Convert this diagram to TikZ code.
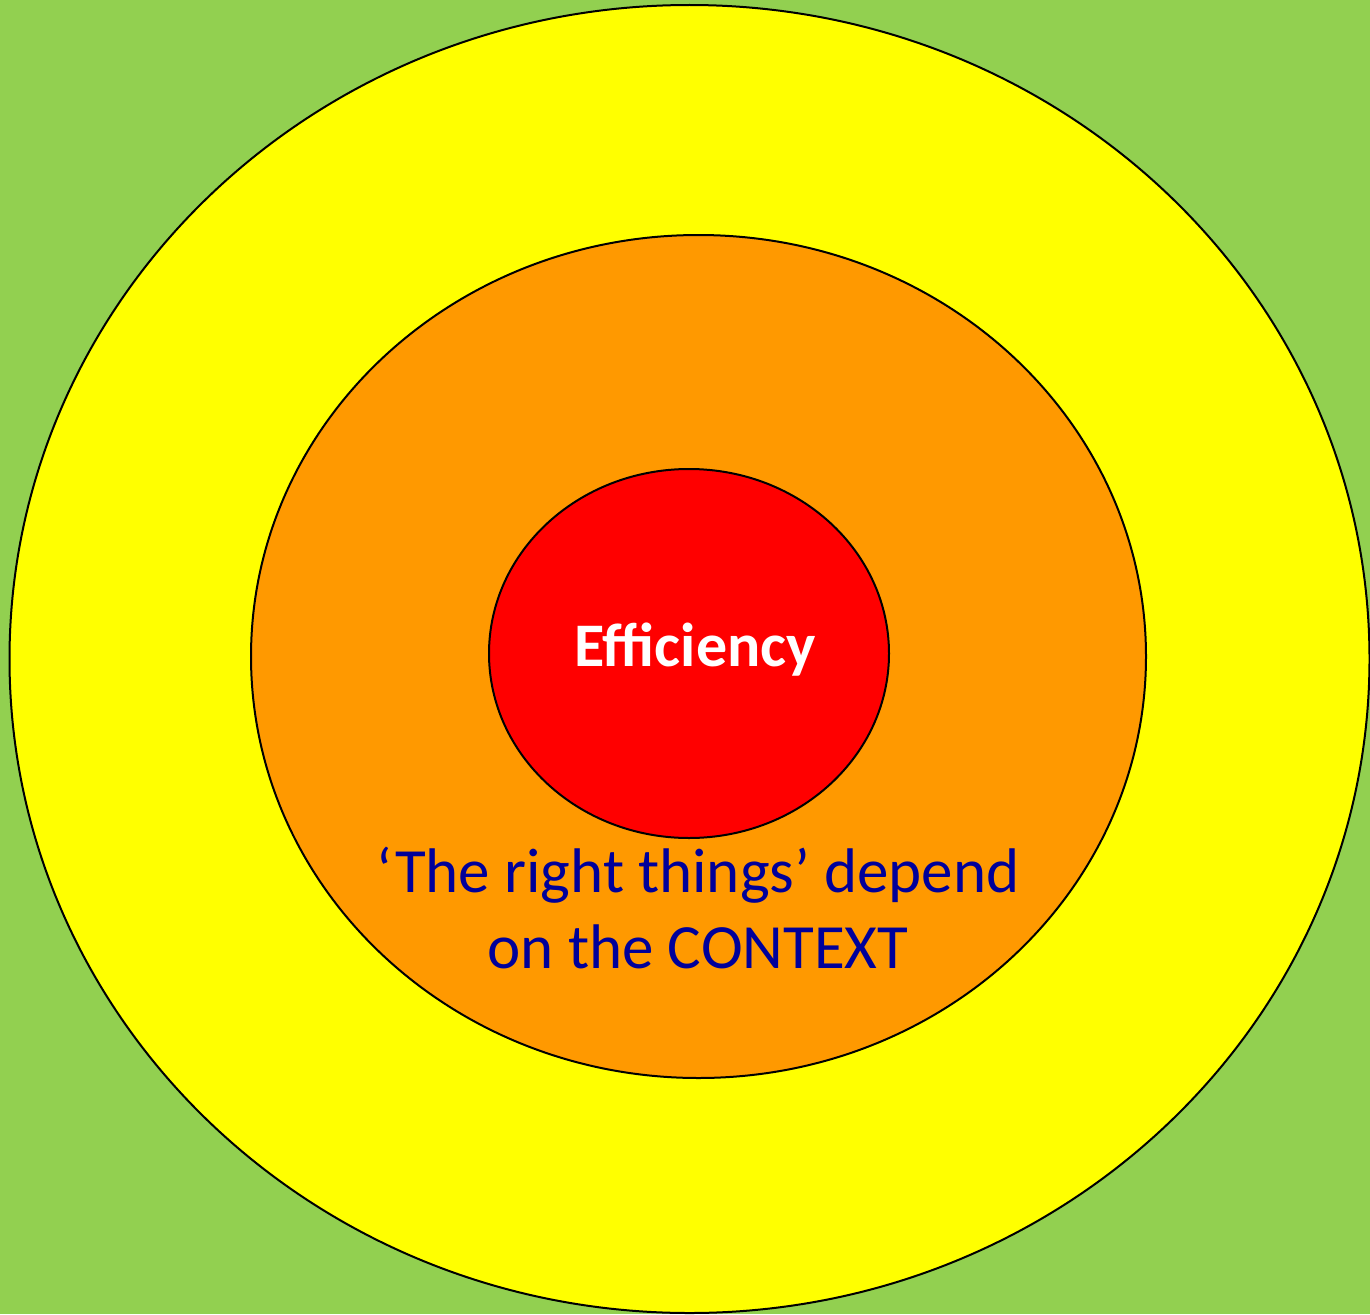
\documentclass[tikz,border=0pt]{standalone}
\usepackage{fontspec}
\setmainfont{Carlito}
\definecolor{bggreen}{HTML}{92D050}
\definecolor{ringyellow}{HTML}{FFFF00}
\definecolor{ringorange}{HTML}{FF9900}
\definecolor{ringred}{HTML}{FF0000}
\definecolor{textblue}{HTML}{00009A}
\tikzset{ring/.style={draw=black, line width=2pt}}
\begin{document}
\begin{tikzpicture}[x=1pt,y=-1pt]
\fill[bggreen] (0,0) rectangle (1370,1314);
\useasboundingbox (0,0) rectangle (1370,1314);
\begin{scope}
\clip (0,0) rectangle (1370,1314);
\draw[ring, fill=ringyellow] (689.5,659) ellipse [x radius=680, y radius=654];
\end{scope}
\draw[ring, fill=ringorange] (698.5,656.5) ellipse [x radius=447.5, y radius=421.5];
\draw[ring, fill=ringred] (689,653.5) ellipse [x radius=200, y radius=184.5];
\node[anchor=base, text=white, font=\fontsize{62}{74}\selectfont\bfseries, inner sep=0pt] (eff) at (695,666) {Efficiency};
\node[anchor=base, text=textblue, font=\fontsize{63}{76}\selectfont, align=center, inner sep=0pt] (ctx) at (698,968) {‘The right things’ depend\\on the CONTEXT};
\end{tikzpicture}
\end{document}
